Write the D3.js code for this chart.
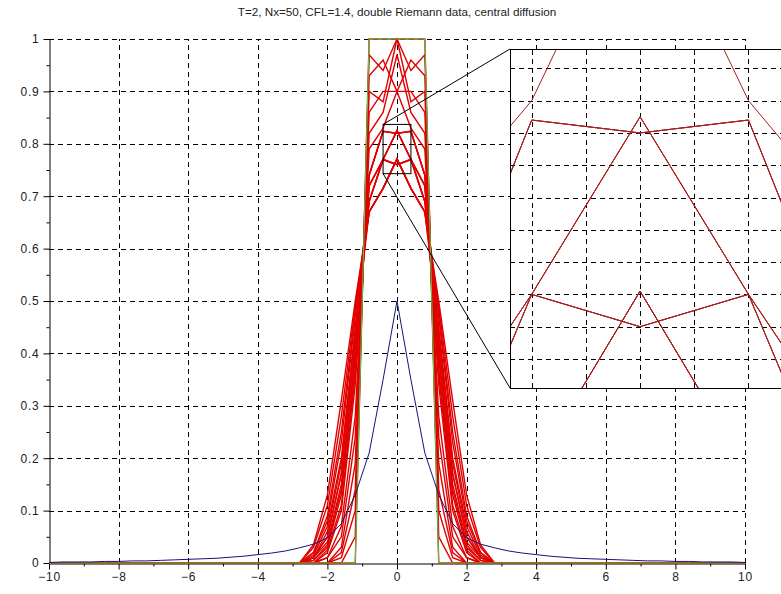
<!DOCTYPE html>
<html>
<head>
<meta charset="utf-8">
<script src="https://cdn.jsdelivr.net/npm/d3@7/dist/d3.min.js"></script>
<style>
body { margin: 0; background: #fff; }
text { font-family: "Liberation Sans", Arial, sans-serif; }
</style>
</head>
<body>
<div id="chart"></div>
<script>
// chart data
var title = "T=2, Nx=50, CFL=1.4, double Riemann data, central diffusion";
var xTicks = [-10, -8, -6, -4, -2, 0, 2, 4, 6, 8, 10];
var xMinor = [-9, -7, -5, -3, -1, 1, 3, 5, 7, 9];
var yTicks = [0, 0.1, 0.2, 0.3, 0.4, 0.5, 0.6, 0.7, 0.8, 0.9, 1];
var yTickLabels = ["0", "0.1", "0.2", "0.3", "0.4", "0.5", "0.6", "0.7", "0.8", "0.9", "1"];
var yMinor = [0.05, 0.15, 0.25, 0.35, 0.45, 0.55, 0.65, 0.75, 0.85, 0.95];

// grid nodes (half line, x >= 0), dx = 0.4
var gridX = [0, 0.4, 0.8, 1.2, 1.6, 2, 2.4, 2.8, 3.2, 3.6, 4, 4.4, 4.8, 5.2, 5.6, 6, 6.4, 6.8, 7.2, 7.6, 8, 8.4, 8.8, 9.2, 9.6, 10];

// initial data (green)
var initX = [-10, -1.2, -0.8, 0.8, 1.2, 10];
var initY = [0, 0, 1, 1, 0, 0];

// blue profile, half line, on gridX
var blueHalf = [0.50, 0.35, 0.21, 0.13, 0.075, 0.048, 0.036, 0.029, 0.023, 0.019, 0.016, 0.013, 0.011,
                0.009, 0.008, 0.007, 0.006, 0.005, 0.004, 0.004, 0.003, 0.003, 0.002, 0.002, 0.002, 0.001];

// red snapshots, half line, values at x = 0, 0.4, ..., 2.8 (zero beyond)
var redHalf = [
  [1.00, 1.00, 1.00, 0.00, 0.00, 0.00, 0.00, 0.00],
  [1.00, 0.94, 0.97, 0.05, 0.00, 0.00, 0.00, 0.00],
  [0.90, 0.96, 0.93, 0.10, 0.01, 0.00, 0.00, 0.00],
  [1.00, 0.88, 0.90, 0.14, 0.02, 0.00, 0.00, 0.00],
  [0.90, 0.90, 0.86, 0.19, 0.03, 0.00, 0.00, 0.00],
  [0.97, 0.86, 0.82, 0.24, 0.05, 0.01, 0.00, 0.00],
  [0.90, 0.83, 0.79, 0.28, 0.07, 0.01, 0.00, 0.00],
  [0.82, 0.824, 0.74, 0.34, 0.10, 0.02, 0.00, 0.00],
  [0.825, 0.77, 0.72, 0.36, 0.11, 0.025, 0.00, 0.00],
  [0.82, 0.824, 0.74, 0.37, 0.13, 0.03, 0.005, 0.00],
  [0.825, 0.77, 0.72, 0.39, 0.14, 0.035, 0.005, 0.00],
  [0.82, 0.824, 0.74, 0.40, 0.15, 0.04, 0.01, 0.00],
  [0.825, 0.77, 0.72, 0.42, 0.17, 0.05, 0.01, 0.00],
  [0.76, 0.77, 0.69, 0.42, 0.17, 0.05, 0.01, 0.00],
  [0.771, 0.715, 0.67, 0.44, 0.19, 0.06, 0.01, 0.00],
  [0.76, 0.77, 0.69, 0.45, 0.20, 0.07, 0.015, 0.00],
  [0.771, 0.715, 0.67, 0.47, 0.23, 0.08, 0.02, 0.00],
  [0.76, 0.77, 0.69, 0.48, 0.25, 0.09, 0.02, 0.00],
  [0.771, 0.715, 0.67, 0.49, 0.28, 0.11, 0.03, 0.00],
  [0.771, 0.715, 0.67, 0.50, 0.31, 0.13, 0.035, 0.00]
];

// zoom box in the main plot and the inset's own ranges
var zoomBoxX = [-0.4, 0.4];
var zoomBoxY = [0.743, 0.837];
var insetX = [-0.48, 0.52];
var insetY = [0.741, 0.846];
var insetGridX = [-0.4, -0.2, 0, 0.2, 0.4];
var insetGridY = [0.75, 0.76, 0.77, 0.78, 0.79, 0.80, 0.81, 0.82, 0.83, 0.84];

var W = 781, H = 594;

var x = d3.scaleLinear().domain([-10, 10]).range([49, 745]);
var y = d3.scaleLinear().domain([0, 1]).range([563, 39]);

// inset placement
var ix = d3.scaleLinear().domain(insetX).range([510, 781]);
var iy = d3.scaleLinear().domain(insetY).range([388, 49]);

const mirror = (xs, half) => {
  var pts = [];
  for (var i = xs.length - 1; i >= 1; i--) pts.push([-xs[i], half[i]]);
  for (var j = 0; j < xs.length; j++) pts.push([xs[j], half[j]]);
  return pts;
};

var redXs = gridX.slice(0, 8).concat([10]);
var redCurves = redHalf.map(h => mirror(redXs, h.concat([0])));
var blueCurve = mirror(gridX, blueHalf);
var greenCurve = initX.map((d, i) => [d, initY[i]]);

var svg = d3.select("#chart").append("svg")
  .attr("width", W)
  .attr("height", H)
  .style("background", "#fff");

svg.append("text")
  .attr("x", x(0))
  .attr("y", 16)
  .attr("text-anchor", "middle")
  .attr("font-size", "11.7px")
  .attr("fill", "#222")
  .text(title);

// grid
var grid = svg.append("g").attr("stroke", "#000").attr("stroke-dasharray", "5,4").attr("stroke-width", 1);
grid.selectAll(".gx").data(xTicks.slice(1)).enter().append("line")
  .attr("x1", d => Math.round(x(d)) + 0.5).attr("x2", d => Math.round(x(d)) + 0.5)
  .attr("y1", y(0)).attr("y2", y(1));
grid.selectAll(".gy").data(yTicks.slice(1)).enter().append("line")
  .attr("x1", x(-10)).attr("x2", x(10))
  .attr("y1", d => Math.round(y(d)) + 0.5).attr("y2", d => Math.round(y(d)) + 0.5);

// axes
svg.append("g")
  .attr("transform", "translate(0," + (Math.round(y(0)) + 0.5) + ")")
  .call(d3.axisBottom(x).tickValues(xTicks).tickSize(6).tickSizeOuter(0).tickPadding(3).tickFormat(d3.format("d")));
svg.append("g")
  .attr("transform", "translate(0," + (Math.round(y(0)) + 0.5) + ")")
  .call(d3.axisBottom(x).tickValues(xMinor).tickSize(3).tickSizeOuter(0).tickFormat(""))
  .select(".domain").remove();

svg.append("g")
  .attr("transform", "translate(" + (Math.round(x(-10)) + 0.5) + ",0)")
  .call(d3.axisLeft(y).tickValues(yTicks).tickSize(6).tickSizeOuter(0).tickPadding(4)
    .tickFormat((d, i) => yTickLabels[i]));
svg.append("g")
  .attr("transform", "translate(" + (Math.round(x(-10)) + 0.5) + ",0)")
  .call(d3.axisLeft(y).tickValues(yMinor).tickSize(3).tickSizeOuter(0).tickFormat(""))
  .select(".domain").remove();

svg.selectAll(".tick text").attr("font-size", "12px").attr("fill", "#222")
  .style("letter-spacing", "0.8px")
  .style("font-family", "'Liberation Sans', Arial, sans-serif");

// curves
const drawCurves = (g, sx, sy, red, w) => {
  var line = d3.line().x(d => sx(d[0])).y(d => sy(d[1]));
  g.selectAll(".red").data(redCurves).enter().append("path")
    .attr("class", "red")
    .attr("d", line)
    .attr("fill", "none")
    .attr("stroke", red)
    .attr("stroke-width", w);
  g.append("path").datum(greenCurve)
    .attr("d", line)
    .attr("fill", "none")
    .attr("stroke", "#4cd24c")
    .attr("stroke-width", 1);
  g.append("path").datum(blueCurve)
    .attr("d", line)
    .attr("fill", "none")
    .attr("stroke", "#14147a")
    .attr("stroke-width", 1);
};

drawCurves(svg.append("g"), x, y, "#e00000", 1.4);

// zoom box and connectors
svg.append("rect")
  .attr("x", x(zoomBoxX[0])).attr("y", y(zoomBoxY[1]))
  .attr("width", x(zoomBoxX[1]) - x(zoomBoxX[0]))
  .attr("height", y(zoomBoxY[0]) - y(zoomBoxY[1]))
  .attr("fill", "none").attr("stroke", "#000").attr("stroke-width", 1);
svg.append("line")
  .attr("x1", x(zoomBoxX[0])).attr("y1", y(zoomBoxY[1]))
  .attr("x2", ix(insetX[0])).attr("y2", iy(insetY[1]))
  .attr("stroke", "#000");
svg.append("line")
  .attr("x1", x(zoomBoxX[0])).attr("y1", y(zoomBoxY[0]))
  .attr("x2", ix(insetX[0])).attr("y2", iy(insetY[0]))
  .attr("stroke", "#000");

// inset
svg.append("clipPath").attr("id", "insetClip")
  .append("rect")
  .attr("x", ix(insetX[0])).attr("y", iy(insetY[1]))
  .attr("width", ix(insetX[1]) - ix(insetX[0]))
  .attr("height", iy(insetY[0]) - iy(insetY[1]));

var inset = svg.append("g");
inset.append("rect")
  .attr("x", ix(insetX[0])).attr("y", iy(insetY[1]))
  .attr("width", ix(insetX[1]) - ix(insetX[0]))
  .attr("height", iy(insetY[0]) - iy(insetY[1]))
  .attr("fill", "#fff");

var ig = inset.append("g").attr("stroke", "#000").attr("stroke-dasharray", "5,4");
ig.selectAll(".igx").data(insetGridX).enter().append("line")
  .attr("x1", d => Math.round(ix(d)) + 0.5).attr("x2", d => Math.round(ix(d)) + 0.5)
  .attr("y1", iy(insetY[0])).attr("y2", iy(insetY[1]));
ig.selectAll(".igy").data(insetGridY).enter().append("line")
  .attr("x1", ix(insetX[0])).attr("x2", ix(insetX[1]))
  .attr("y1", d => Math.round(iy(d)) + 0.5).attr("y2", d => Math.round(iy(d)) + 0.5);

drawCurves(inset.append("g").attr("clip-path", "url(#insetClip)"), ix, iy, "#a82020", 1);

inset.append("rect")
  .attr("x", Math.round(ix(insetX[0])) + 0.5).attr("y", Math.round(iy(insetY[1])) + 0.5)
  .attr("width", ix(insetX[1]) - ix(insetX[0]) + 2)
  .attr("height", Math.round(iy(insetY[0]) - iy(insetY[1])))
  .attr("fill", "none").attr("stroke", "#000").attr("stroke-width", 1);
</script>
</body>
</html>
